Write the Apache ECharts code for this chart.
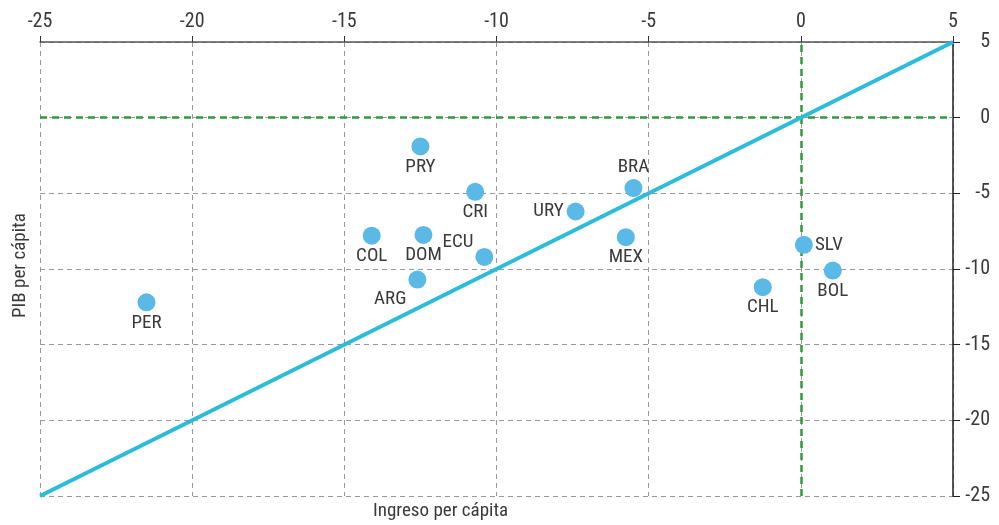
<!DOCTYPE html>
<html>
<head>
<meta charset="utf-8">
<script src="https://cdn.jsdelivr.net/npm/echarts@6/dist/echarts.min.js"></script>
<style>
  html, body { margin: 0; padding: 0; background: #fff; }
  #chart { width: 999px; height: 525px; }
</style>
</head>
<body>
<div id="chart"></div>
<script>
// datos
const countries = ['PER', 'PRY', 'CRI', 'COL', 'DOM', 'ECU', 'ARG', 'URY', 'BRA', 'MEX', 'SLV', 'BOL', 'CHL'];
const ingreso = [-21.5, -12.5, -10.7, -14.1, -12.4, -10.4, -12.6, -7.4, -5.5, -5.75, 0.1, 1.05, -1.25];
const pib = [-12.2, -1.9, -4.9, -7.8, -7.75, -9.2, -10.7, -6.2, -4.65, -7.9, -8.4, -10.1, -11.2];
const labelPos = ['bottom', 'bottom', 'bottom', 'bottom', 'bottom', 'topLeft', 'bottomLeft', 'left', 'top', 'bottom', 'right', 'bottom', 'bottom'];
const diagonal = [[-25, -25], [5, 5]];

const font = '"Roboto Condensed", "Liberation Sans Narrow", "DejaVu Sans Condensed", sans-serif';
const txt = '#3a3a3a';

const offsets = {
  bottom: { position: 'bottom', distance: 2 },
  top: { position: 'top', distance: 2 },
  left: { position: 'left', distance: 3 },
  right: { position: 'right', distance: 2 },
  topLeft: { position: 'left', offset: [-2, -15], distance: 0 },
  bottomLeft: { position: 'left', offset: [-2, 20], distance: 0 }
};

const points = countries.map((c, i) => ({
  name: c,
  value: [ingreso[i], pib[i]],
  label: offsets[labelPos[i]]
}));

const chart = echarts.init(document.getElementById('chart'));
chart.setOption({
  animation: false,
  textStyle: { fontFamily: font },
  grid: { left: 40, right: 46, top: 42, bottom: 29 },
  graphic: [
    { type: 'text', left: 373, top: 502, style: { text: 'Ingreso per cápita', font: '19px ' + font, fill: txt } },
    { type: 'text', x: 11, y: 318, rotation: Math.PI / 2, style: { text: 'PIB per cápita', font: '19px ' + font, fill: txt } }
  ],
  xAxis: {
    type: 'value', position: 'top', min: -25, max: 5, interval: 5,
    axisLine: { show: true, onZero: false, lineStyle: { color: '#555', width: 1.5 } },
    axisTick: { show: true, inside: false, length: 6, lineStyle: { color: '#333' } },
    axisLabel: { color: txt, fontSize: 20, margin: 10, fontFamily: font },
    splitLine: { show: true, lineStyle: { color: '#999', type: [5, 4] } }
  },
  yAxis: {
    type: 'value', position: 'right', min: -25, max: 5, interval: 5,
    axisLine: { show: true, onZero: false, lineStyle: { color: '#222', width: 1.5 } },
    axisTick: { show: true, length: 7, lineStyle: { color: '#222' } },
    axisLabel: { color: txt, fontSize: 20, margin: 37, align: 'right', fontFamily: font },
    splitLine: { show: true, lineStyle: { color: '#999', type: [5, 4] } }
  },
  series: [
    {
      type: 'line',
      data: diagonal,
      symbol: 'none',
      lineStyle: { color: '#2bbcd9', width: 4 },
      z: 3,
      markLine: {
        silent: true,
        symbol: 'none',
        label: { show: false },
        lineStyle: { color: '#2e9a3e', type: [7, 5], width: 2.5 },
        data: [{ xAxis: 0 }, { yAxis: 0 }],
        z: 2
      }
    },
    {
      type: 'scatter',
      data: points,
      symbolSize: 18,
      itemStyle: { color: '#5bb9e7', opacity: 1 },
      label: { show: true, formatter: '{b}', color: txt, fontSize: 19, fontFamily: font },
      z: 4
    }
  ]
});
</script>
</body>
</html>
